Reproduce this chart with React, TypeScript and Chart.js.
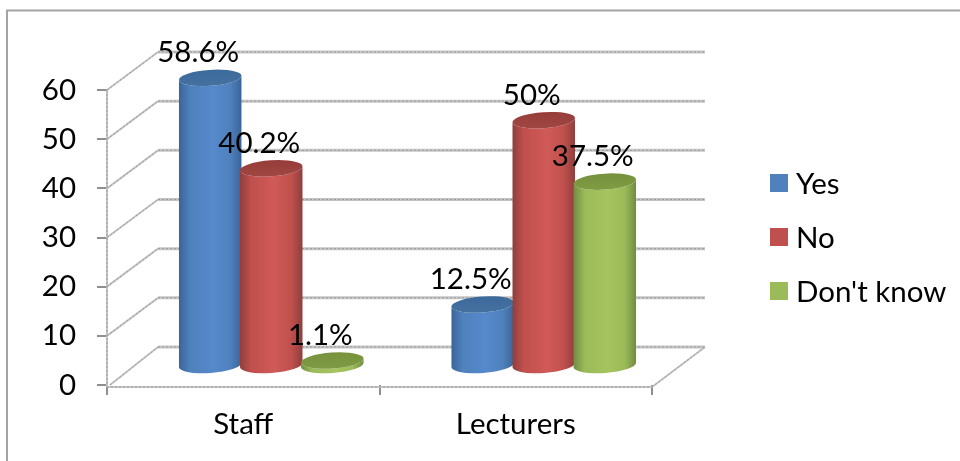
import React, { useEffect, useRef } from "react";
import { Chart, registerables } from "chart.js";

Chart.register(...registerables);

const categories = ["Staff", "Lecturers"];
const yesValues = [58.6, 12.5];
const noValues = [40.2, 50];
const dontKnowValues = [1.1, 37.5];
const seriesNames = ["Yes", "No", "Don't know"];
const seriesColors = ["#4f81bd", "#c0504d", "#9bbb59"];
const edgeColors = ["#3a6498", "#8f3f3c", "#728c40"];
const lightColors = ["#5689cb", "#d05a57", "#a6c45f"];
const capColors = ["#3c6a9c", "#963d3a", "#76923c"];
const capLowColors = ["#44719f", "#a04643", "#7f9b44"];
const yTicks = [0, 10, 20, 30, 40, 50, 60];

const FONT = "Lato, Carlito, sans-serif";
const TEXT_SIZE = 29.5;
const GRID = "#c4c4c4";
const GRID_CORE = "#9c9c9c";
const DEPTH_X = 51;
const DEPTH_Y = 38;
const CAP_RY = 8;
const TILT = -0.07;

const line = (c: CanvasRenderingContext2D, x0: number, y0: number, x1: number, y1: number) => {
  c.beginPath();
  c.moveTo(x0, y0);
  c.lineTo(x1, y1);
  c.stroke();
};

// Wall rule: a pale band with a fine dotted core, the way the gridlines are stippled.
const rule = (c: CanvasRenderingContext2D, x0: number, y0: number, x1: number, y1: number, w = 3) => {
  c.strokeStyle = GRID;
  c.lineWidth = w;
  c.setLineDash([]);
  line(c, x0, y0, x1, y1);
  c.strokeStyle = GRID_CORE;
  c.lineWidth = 1;
  c.setLineDash([2, 2]);
  line(c, x0, y0, x1, y1);
  c.setLineDash([]);
};

// Chart frame: top and left rules, running off the canvas on the other two sides.
const framePlugin = {
  id: "frame",
  beforeDraw(chart: Chart) {
    const c = chart.ctx;
    c.save();
    c.strokeStyle = "#a3a3a3";
    c.lineWidth = 2;
    c.beginPath();
    c.moveTo(7, 461);
    c.lineTo(7, 10.5);
    c.lineTo(960, 10.5);
    c.stroke();
    c.restore();
  },
};

// Extruded wall and floor behind the bars, plus the cylinders that replace the flat bars.
const cylinderPlugin = {
  id: "cylinders",
  beforeDatasetsDraw(chart: Chart) {
    const c = chart.ctx;
    const { left, right, bottom, top: areaTop } = chart.chartArea;
    const y = chart.scales.y;
    c.save();
    rule(c, left, areaTop, left, bottom + 2, 2);
    yTicks.forEach((t) => {
      const p = y.getPixelForValue(t);
      rule(c, left + (t === 0 ? 3 : 0), p, left + DEPTH_X, p - DEPTH_Y, 2);
      rule(c, left + DEPTH_X, p - DEPTH_Y, right + DEPTH_X + 2, p - DEPTH_Y);
    });
    rule(c, left, bottom + 2, right, bottom + 2, 2);
    rule(c, right, bottom + 2, right + DEPTH_X + 2, bottom - DEPTH_Y, 2);

    chart.data.datasets.forEach((_, d) => {
      const meta = chart.getDatasetMeta(d);
      meta.data.forEach((bar: any) => {
        const half = bar.width / 2 + 0.8;
        const cx = bar.x + DEPTH_X / 2 + 2.5;
        const top = bar.y - DEPTH_Y / 2;
        const base = bar.base - DEPTH_Y / 2;
        const grad = c.createLinearGradient(cx - half, 0, cx + half, 0);
        grad.addColorStop(0, edgeColors[d]);
        grad.addColorStop(0.18, seriesColors[d]);
        grad.addColorStop(0.55, lightColors[d]);
        grad.addColorStop(0.82, seriesColors[d]);
        grad.addColorStop(1, edgeColors[d]);
        c.fillStyle = grad;
        c.beginPath();
        c.ellipse(cx, top, half, CAP_RY, TILT, Math.PI, 0, true);
        c.ellipse(cx, base, half, CAP_RY, TILT, 0, Math.PI, false);
        c.closePath();
        c.fill();
        const capFill = c.createLinearGradient(0, top - CAP_RY, 0, top + CAP_RY);
        capFill.addColorStop(0, capColors[d]);
        capFill.addColorStop(1, capLowColors[d]);
        c.fillStyle = capFill;
        c.beginPath();
        c.ellipse(cx, top, half, CAP_RY, TILT, 0, Math.PI * 2);
        c.fill();
      });
    });
    c.restore();
    return false;
  },
  afterDraw(chart: Chart) {
    const c = chart.ctx;
    c.save();
    c.fillStyle = "#000";
    c.font = `${TEXT_SIZE}px ${FONT}`;
    c.textBaseline = "middle";

    // Value labels sit up and to the left of each cylinder's cap.
    c.textAlign = "center";
    chart.data.datasets.forEach((ds, d) => {
      chart.getDatasetMeta(d).data.forEach((bar: any, i: number) => {
        const cx = bar.x + DEPTH_X / 2 + 2.5;
        c.fillText(`${ds.data[i]}%`, cx - 12, bar.y - DEPTH_Y / 2 - 25);
      });
    });

    // Legend column.
    c.textAlign = "left";
    seriesNames.forEach((name, i) => {
      const rowY = 183 + i * 54;
      c.fillStyle = seriesColors[i];
      c.fillRect(770, rowY - 9, 18, 18);
      c.fillStyle = "#000";
      c.fillText(name, 796, rowY + 1);
    });
    c.restore();
  },
};

export default function App() {
  const ref = useRef<HTMLCanvasElement>(null);
  useEffect(() => {
    const chart = new Chart(ref.current!, {
      type: "bar",
      data: {
        labels: categories,
        datasets: [
          { label: seriesNames[0], data: yesValues, backgroundColor: seriesColors[0] },
          { label: seriesNames[1], data: noValues, backgroundColor: seriesColors[1] },
          { label: seriesNames[2], data: dontKnowValues, backgroundColor: seriesColors[2] },
        ],
      },
      options: {
        responsive: false,
        animation: false,
        layout: { padding: { top: 90, right: 308, left: 0, bottom: 0 } },
        datasets: { bar: { categoryPercentage: 0.672, barPercentage: 1 } },
        plugins: { legend: { display: false }, tooltip: { enabled: false } },
        scales: {
          x: {
            afterFit: (s: any) => { s.height = 76; },
            grid: { drawOnChartArea: false, offset: true, color: "#8f8f8f", tickLength: 10, lineWidth: 2 },
            border: { display: false },
            ticks: { color: "#000", font: { family: FONT, size: TEXT_SIZE }, padding: 12, maxRotation: 0 },
          },
          y: {
            min: 0,
            max: 60,
            afterFit: (s: any) => { s.width = 107; },
            grid: { drawOnChartArea: false, color: "#8f8f8f", tickLength: 10, lineWidth: 2 },
            border: { display: false },
            ticks: { color: "#000", font: { family: FONT, size: TEXT_SIZE }, padding: 21, stepSize: 10 },
          },
        },
      },
      plugins: [framePlugin, cylinderPlugin],
    } as any);
    return () => chart.destroy();
  }, []);
  return (
    <div style={{ position: "fixed", left: 0, top: 0, width: 960, height: 461, background: "#fff" }}>
      <canvas ref={ref} width={960} height={461} style={{ display: "block" }} />
    </div>
  );
}
